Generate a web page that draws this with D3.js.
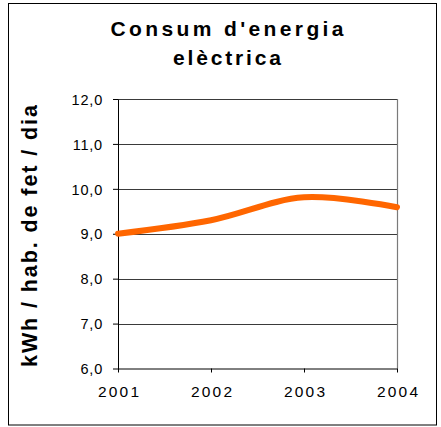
<!DOCTYPE html>
<html>
<head>
<meta charset="utf-8">
<script src="https://cdn.jsdelivr.net/npm/d3@7"></script>
<style>
  html, body { margin: 0; padding: 0; background: #fff; }
  svg { display: block; font-family: "Liberation Sans", Arial, sans-serif; }
</style>
</head>
<body>
<svg id="chart" width="441" height="427"></svg>
<script>
// ---- data ----
const titleLines = ["Consum d'energia", "elèctrica"];
const yAxisTitle = "kWh / hab. de fet / dia";
const years = [2001, 2002, 2003, 2004];
const consum = [9.00, 9.30, 9.81, 9.59];
const yTicks = [6, 7, 8, 9, 10, 11, 12];
const xTicks = [2001, 2002, 2003, 2004];

// ---- layout ----
const plot = { left: 118, right: 397, top: 99, bottom: 368.5 };

const svg = d3.select("#chart");

// outer frame
svg.append("rect")
  .attr("x", 8.5).attr("y", 3.5)
  .attr("width", 428).attr("height", 421.5)
  .attr("fill", "#fff").attr("stroke", "#000").attr("stroke-width", 1);

const x = d3.scaleLinear().domain([2001, 2004]).range([plot.left, plot.right]);
const y = d3.scaleLinear().domain([6, 12]).range([plot.bottom, plot.top]);

const locale = d3.formatLocale({ decimal: ",", thousands: ".", grouping: [3], currency: ["", " €"] });
const fmt = locale.format(".1f");

// gridlines
svg.append("g")
  .selectAll("line")
  .data(yTicks.filter(d => d > 6))
  .join("line")
  .attr("x1", plot.left).attr("x2", plot.right)
  .attr("y1", d => Math.round(y(d)) + 0.5).attr("y2", d => Math.round(y(d)) + 0.5)
  .attr("stroke", "#3a3a3a").attr("stroke-width", 1);

// right border of plot area
svg.append("line")
  .attr("x1", plot.right + 0.5).attr("x2", plot.right + 0.5)
  .attr("y1", y(12)).attr("y2", y(6))
  .attr("stroke", "#7a7a7a").attr("stroke-width", 1.2);

// y axis
const yAxis = svg.append("g")
  .attr("transform", `translate(${plot.left},0)`)
  .call(d3.axisLeft(y).tickValues(yTicks).tickFormat(fmt).tickSize(5).tickSizeOuter(0).tickPadding(10));
yAxis.select(".domain").attr("stroke", "#000");
yAxis.selectAll(".tick line").attr("stroke", "#000");
yAxis.selectAll("text")
  .attr("font-size", 14.5).attr("fill", "#000")
  .attr("font-family", "'Liberation Sans', Arial, sans-serif")
  .attr("dy", "0.36em")
  .style("letter-spacing", "0.8px");

// x axis
const xAxis = svg.append("g")
  .attr("transform", `translate(0,${plot.bottom})`)
  .call(d3.axisBottom(x).tickValues(xTicks).tickFormat(d3.format("d")).tickSize(4).tickSizeOuter(0).tickPadding(13));
xAxis.select(".domain").attr("stroke", "#000");
xAxis.selectAll(".tick line").attr("stroke", "#000");
xAxis.selectAll("text")
  .attr("font-size", 15.5).attr("fill", "#000")
  .attr("font-family", "'Liberation Sans', Arial, sans-serif")
  .style("letter-spacing", "2.2px")
  .attr("dx", "1.1px");

// data line
const line = d3.line()
  .x((d, i) => x(years[i]))
  .y(d => y(d))
  .curve(d3.curveCatmullRom.alpha(0.5));
svg.append("path")
  .datum(consum)
  .attr("d", line)
  .attr("fill", "none")
  .attr("stroke", "#FF6600")
  .attr("stroke-width", 6)
  .attr("stroke-linecap", "round");

// title
const titleBaselines = [36, 65];
const titleWidths = [233, 108];
svg.append("g").selectAll("text")
  .data(titleLines)
  .join("text")
  .attr("x", 227)
  .attr("y", (d, i) => titleBaselines[i])
  .attr("text-anchor", "middle")
  .attr("font-size", 21)
  .attr("font-weight", "bold")
  .attr("fill", "#000")
  .attr("textLength", (d, i) => titleWidths[i])
  .attr("lengthAdjust", "spacing")
  .text(d => d);

// y axis title
svg.append("text")
  .attr("transform", "translate(36.5,236) rotate(-90)")
  .attr("text-anchor", "middle")
  .attr("font-size", 21.5)
  .attr("font-weight", "bold")
  .attr("fill", "#000")
  .attr("textLength", 262)
  .attr("lengthAdjust", "spacing")
  .text(yAxisTitle);
</script>
</body>
</html>
